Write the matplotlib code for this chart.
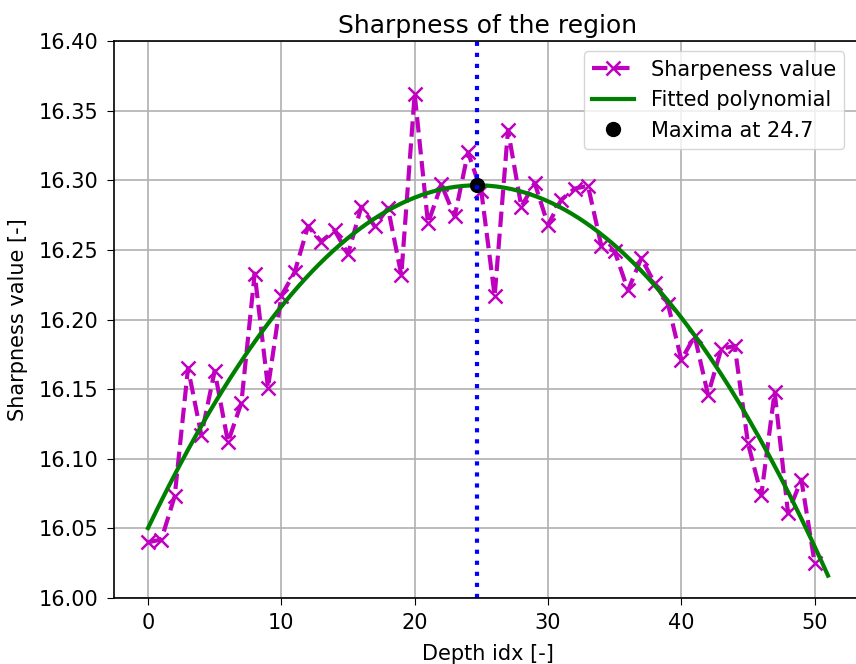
import numpy as np
import matplotlib
matplotlib.use("Agg")
import matplotlib.pyplot as plt

depth_idx = np.arange(51)
sharpness = np.array([
    16.040, 16.042, 16.073, 16.165, 16.117, 16.163, 16.112, 16.140, 16.233, 16.151,
    16.217, 16.234, 16.267, 16.256, 16.264, 16.247, 16.281, 16.267, 16.280, 16.232,
    16.362, 16.269, 16.297, 16.274, 16.320, 16.292, 16.217, 16.336, 16.281, 16.298,
    16.268, 16.286, 16.294, 16.296, 16.253, 16.249, 16.221, 16.244, 16.226, 16.211,
    16.171, 16.188, 16.146, 16.179, 16.181, 16.111, 16.074, 16.148, 16.061, 16.085,
    16.025,
])

# quadratic fit and its vertex
coef = np.polyfit(depth_idx, sharpness, 2)
x_fit = np.linspace(0, 51, 200)
y_fit = np.polyval(coef, x_fit)
x_max = -coef[1] / (2 * coef[0])
y_max = np.polyval(coef, x_max)

plt.rcParams['font.size'] = 15
plt.rcParams['xtick.major.size'] = 5
plt.rcParams['ytick.major.size'] = 5
plt.rcParams['xtick.major.pad'] = 6
plt.rcParams['ytick.major.pad'] = 6
plt.rcParams['axes.linewidth'] = 1.2

fig = plt.figure(figsize=(8.56, 6.64), dpi=100)
ax = fig.add_axes([114 / 856, 1 - 598 / 664, (862 - 114) / 856, (598 - 41) / 664])

ax.plot(depth_idx, sharpness, 'm--x', lw=3, ms=10, mew=1.8, label='Sharpeness value')
ax.plot(x_fit, y_fit, color='g', lw=3, label='Fitted polynomial')
ax.plot(x_max, y_max, 'ko', ms=10, label='Maxima at %.1f' % x_max)
ax.axvline(x_max, color='b', ls=':', lw=3)

ax.set_ylim(16.00, 16.40)
ax.set_xlim(-2.55, 53.55)
ax.set_yticks(np.arange(16.00, 16.41, 0.05))
ax.yaxis.set_major_formatter(matplotlib.ticker.FormatStrFormatter('%.2f'))
ax.grid(True, color='#b0b0b0', lw=1.2)
ax.set_axisbelow(True)

ax.set_title('Sharpness of the region', fontsize=18)
ax.set_xlabel('Depth idx [-]', labelpad=8)
ax.set_ylabel('Sharpness value [-]', labelpad=8)
ax.legend(loc='upper right', bbox_to_anchor=(856 / 862 - 0.003, 1.0), fontsize=15)

fig.savefig('out.png', dpi=100)
